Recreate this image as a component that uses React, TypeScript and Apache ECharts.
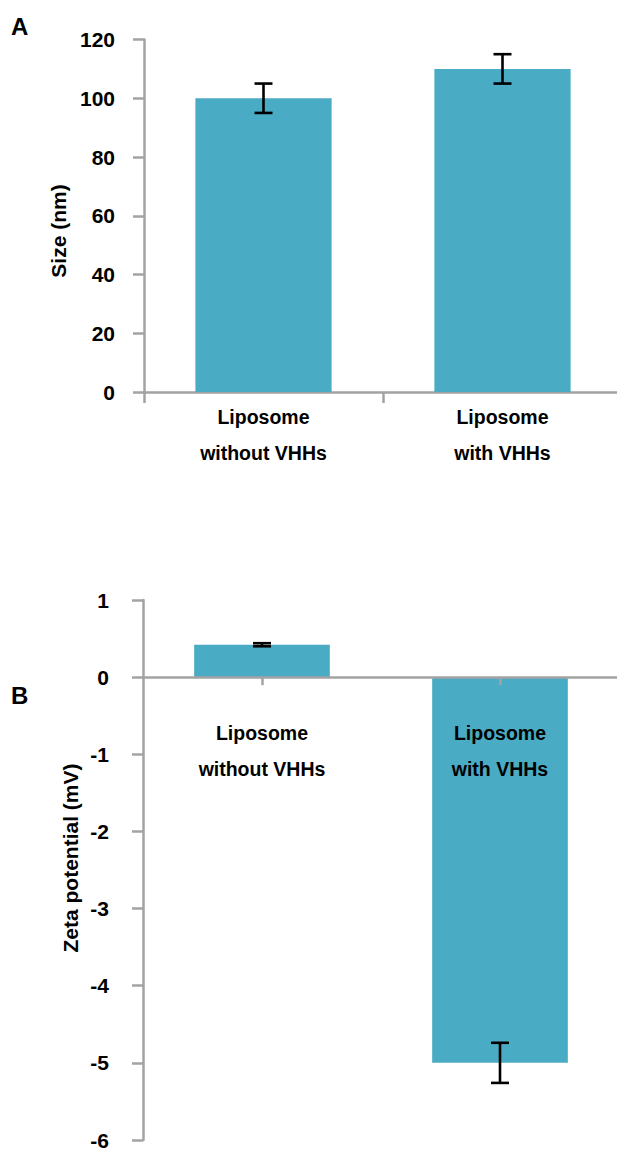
import React, { useEffect, useRef } from "react";
import * as echarts from "echarts";

const categories = ["Liposome\nwithout VHHs", "Liposome\nwith VHHs"];
const sizeValues = [100, 110];
const sizeErrors = [5, 5];
const zetaValues = [0.42, -5];
const zetaErrors = [0.02, 0.26];
const sizeTicks = { min: 0, max: 120, interval: 20 };
const zetaTicks = { min: -6, max: 1, interval: 1 };
const sizeTitle = "Size (nm)";
const zetaTitle = "Zeta potential (mV)";

const FONT = "Liberation Sans, Arial, sans-serif";
const BAR = "#4aabc5";
const AXIS = "#a3a3a3";

function errorRender(params: any, api: any) {
  const x = api.value(0);
  const v = api.value(1);
  const e = api.value(2);
  const top = api.coord([x, v + e]);
  const bot = api.coord([x, v - e]);
  const half = 9;
  const style = { stroke: "#000", lineWidth: 2.6 };
  return {
    type: "group",
    children: [
      { type: "line", shape: { x1: top[0], y1: top[1], x2: bot[0], y2: bot[1] }, style },
      { type: "line", shape: { x1: top[0] - half, y1: top[1], x2: top[0] + half, y2: top[1] }, style },
      { type: "line", shape: { x1: bot[0] - half, y1: bot[1], x2: bot[0] + half, y2: bot[1] }, style },
    ],
  };
}

export default function App() {
  const ref = useRef<HTMLDivElement>(null);
  useEffect(() => {
    if (!ref.current) return;
    const chart = echarts.init(ref.current, undefined, { renderer: "svg" });
    const axisLine = { show: true, lineStyle: { color: AXIS, width: 2.5 } };
    const tickLabel = { color: "#000", fontWeight: "bold" as const, fontSize: 21, fontFamily: FONT };
    const catLabel = {
      color: "#000",
      fontWeight: "bold" as const,
      fontSize: 19.5,
      fontFamily: FONT,
      lineHeight: 36,
    };
    chart.setOption({
      animation: false,
      backgroundColor: "#fff",
      grid: [
        { left: 144, top: 39.5, width: 478, height: 352.5, outerBoundsMode: "none", containLabel: false },
        { left: 143, top: 600, width: 476, height: 540, outerBoundsMode: "none", containLabel: false },
      ],
      graphic: [
        { type: "text", left: 11, top: 14, style: { text: "A", font: `bold 24px ${FONT}`, fill: "#000" } },
        { type: "text", left: 11, top: 683, style: { text: "B", font: `bold 24px ${FONT}`, fill: "#000" } },
        {
          type: "text",
          x: 58,
          y: 231,
          rotation: Math.PI / 2,
          style: {
            text: sizeTitle,
            font: `bold 21px ${FONT}`,
            fill: "#000",
            align: "center",
            verticalAlign: "middle",
          },
        },
        {
          type: "text",
          x: 70,
          y: 858,
          rotation: Math.PI / 2,
          style: {
            text: zetaTitle,
            font: `bold 21px ${FONT}`,
            fill: "#000",
            align: "center",
            verticalAlign: "middle",
          },
        },
      ],
      xAxis: [
        {
          type: "category",
          gridIndex: 0,
          data: categories,
          boundaryGap: true,
          axisLine,
          axisTick: { show: true, alignWithLabel: false, length: 11, lineStyle: { color: AXIS, width: 2.5 } },
          axisLabel: { ...catLabel, margin: 7 },
          splitLine: { show: false },
        },
        {
          type: "category",
          gridIndex: 1,
          data: categories,
          boundaryGap: true,
          axisLine: { ...axisLine, onZero: true },
          axisTick: { show: true, alignWithLabel: true, length: 8, lineStyle: { color: AXIS, width: 2.5 } },
          axisLabel: { show: false },
          splitLine: { show: false },
          z: 10,
        },
        {
          type: "category",
          gridIndex: 1,
          position: "top",
          data: categories,
          boundaryGap: true,
          axisLine: { show: false, onZero: false },
          axisTick: { show: false },
          axisLabel: { ...catLabel, inside: true, margin: 115 },
          splitLine: { show: false },
          z: 10,
        },
      ],
      yAxis: [
        {
          type: "value",
          gridIndex: 0,
          ...sizeTicks,
          axisLine,
          axisTick: { show: true, length: 11, lineStyle: { color: AXIS, width: 2.5 } },
          axisLabel: { ...tickLabel, margin: 29 },
          splitLine: { show: false },
        },
        {
          type: "value",
          gridIndex: 1,
          ...zetaTicks,
          axisLine,
          axisTick: { show: true, length: 11, lineStyle: { color: AXIS, width: 2.5 } },
          axisLabel: { ...tickLabel, margin: 34 },
          splitLine: { show: false },
        },
      ],
      series: [
        {
          type: "bar",
          xAxisIndex: 0,
          yAxisIndex: 0,
          data: sizeValues,
          barWidth: "57%",
          itemStyle: { color: BAR },
        },
        {
          type: "custom",
          xAxisIndex: 0,
          yAxisIndex: 0,
          renderItem: errorRender,
          encode: { x: 0, y: 1 },
          data: sizeValues.map((v, i) => [i, v, sizeErrors[i]]),
          z: 5,
        },
        {
          type: "bar",
          xAxisIndex: 1,
          yAxisIndex: 1,
          data: zetaValues,
          barWidth: "57%",
          itemStyle: { color: BAR },
        },
        {
          type: "custom",
          xAxisIndex: 1,
          yAxisIndex: 1,
          renderItem: errorRender,
          encode: { x: 0, y: 1 },
          data: zetaValues.map((v, i) => [i, v, zetaErrors[i]]),
          z: 5,
        },
      ],
    });
    return () => chart.dispose();
  }, []);
  return (
    <div
      ref={ref}
      style={{ position: "absolute", left: 0, top: 0, width: 617, height: 1150 }}
    />
  );
}
